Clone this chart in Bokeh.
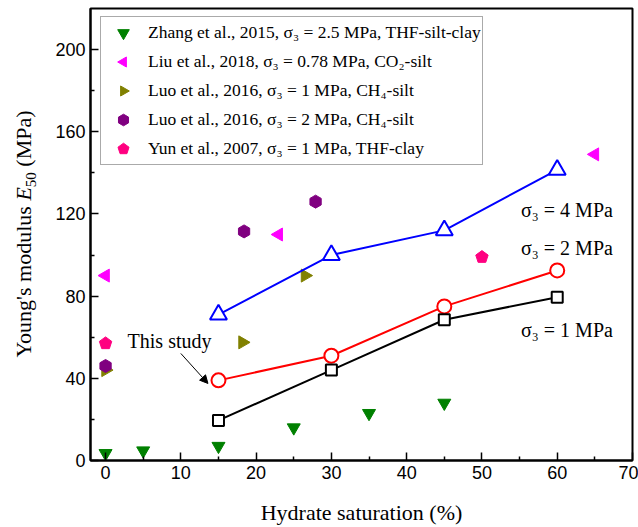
import numpy as np
from bokeh.plotting import figure
from bokeh.layouts import row
from bokeh.models import (Range1d, Legend, LegendItem, Label, Arrow, NormalHead, FixedTicker, Div)
from bokeh.core.properties import value
from bokeh.embed import file_html
from bokeh.resources import INLINE

# ---------------- data ----------------
zhang_x = [0, 5, 15, 25, 35, 45]
zhang_y = [3.5, 4.8, 7, 16, 23, 28]
liu_x = [0, 23, 65]
liu_y = [90, 110, 149]
luo1_x = [0, 18.2, 26.5]
luo1_y = [44, 57.5, 90]
luo2_x = [0, 18.4, 27.9]
luo2_y = [46, 111.5, 126]
yun_x = [0, 50]
yun_y = [57, 99]
study_x = [15, 30, 45, 60]
s1_y = [19.5, 44, 68.5, 79.5]
s2_y = [39, 51, 75, 92.5]
s4_y = [71, 100, 112, 141.5]

x_ticks = [0, 10, 20, 30, 40, 50, 60, 70]
x_minor = [5, 15, 25, 35, 45, 55, 65]
y_ticks = [0, 40, 80, 120, 160, 200]
y_minor = [20, 60, 100, 140, 180]

legend_labels = [
    "Zhang et al., 2015, σ₃ = 2.5 MPa, THF-silt-clay",
    "Liu et al., 2018, σ₃ = 0.78 MPa, CO₂-silt",
    "Luo et al., 2016, σ₃ = 1 MPa, CH₄-silt",
    "Luo et al., 2016, σ₃ = 2 MPa, CH₄-silt",
    "Yun et al., 2007, σ₃ = 1 MPa, THF-clay",
]

SERIF = "Liberation Serif"
SANS = "Liberation Sans"
LABEL_W = 52

p = figure(width=638 - LABEL_W, height=527, output_backend="svg", toolbar_location=None,
           x_range=Range1d(-2, 70), y_range=Range1d(0, 220),
           min_border_left=36, min_border_right=6, min_border_top=8, min_border_bottom=67)
p.xgrid.visible = False
p.ygrid.visible = False
p.outline_line_color = "black"
p.outline_line_width = 2
p.background_fill_color = "white"
p.border_fill_color = "white"

# scatter data from literature
r_z = p.scatter(zhang_x, zhang_y, marker="inverted_triangle", size=13,
                fill_color="#008000", line_color="#008000")
r_liu = p.ngon(liu_x, liu_y, radius=7.5, radius_units="screen", n=3, angle=np.pi / 2,
               fill_color="#FF00FF", line_color="#FF00FF")
r_l1 = p.ngon(luo1_x, luo1_y, radius=7.5, radius_units="screen", n=3, angle=-np.pi / 2,
              fill_color="#808000", line_color="#808000")
r_l2 = p.ngon(luo2_x, luo2_y, radius=6.5, radius_units="screen", n=6,
              fill_color="#800080", line_color="#800080")
r_yun = p.ngon(yun_x, yun_y, radius=6.5, radius_units="screen", n=5,
               fill_color="#FF0080", line_color="#FF0080")

# this study
p.line(study_x, s4_y, line_color="blue", line_width=2)
p.scatter(study_x, s4_y, marker="triangle", size=17, line_color="blue",
          fill_color="white", line_width=2)
p.line(study_x, s2_y, line_color="red", line_width=2)
p.scatter(study_x, s2_y, marker="circle", size=14, line_color="red",
          fill_color="white", line_width=2)
p.line(study_x, s1_y, line_color="black", line_width=2)
p.scatter(study_x, s1_y, marker="square", size=11, line_color="black",
          fill_color="white", line_width=2)

# axes
p.xaxis.ticker = FixedTicker(ticks=x_ticks, minor_ticks=x_minor)
p.yaxis.ticker = FixedTicker(ticks=y_ticks, minor_ticks=y_minor)
for ax in (p.xaxis[0], p.yaxis[0]):
    ax.major_tick_in = 8
    ax.major_tick_out = 0
    ax.minor_tick_in = 4
    ax.minor_tick_out = 0
    ax.axis_line_width = 2
    ax.axis_line_color = "black"
    ax.major_tick_line_width = 1.5
    ax.minor_tick_line_width = 1.5
    ax.major_tick_line_color = "black"
    ax.minor_tick_line_color = "black"
    ax.major_label_text_font = SANS
    ax.major_label_text_font_size = "18px"
    ax.major_label_text_color = "black"
p.xaxis.major_label_standoff = 5
p.yaxis.major_label_standoff = 5
p.xaxis.axis_label = "Hydrate saturation (%)"
p.xaxis.axis_label_text_font = SERIF
p.xaxis.axis_label_text_font_style = "normal"
p.xaxis.axis_label_text_font_size = "22px"
p.xaxis.axis_label_text_color = "black"
p.xaxis.axis_label_standoff = 18

# annotations
for txt, yy in [("σ₃ = 4 MPa", 122), ("σ₃ = 2 MPa", 103.6), ("σ₃ = 1 MPa", 63.7)]:
    p.add_layout(Label(x=55.2, y=yy, text=txt, text_align="left", text_baseline="middle",
                       text_font=SERIF, text_font_size="20px", text_color="black"))
p.add_layout(Label(x=8.5, y=58, text="This study", text_align="center", text_baseline="middle",
                   text_font=SERIF, text_font_size="20px", text_color="black"))
p.add_layout(Arrow(end=NormalHead(size=8, fill_color="black", line_color="black"),
                   x_start=10.0, y_start=52.1, x_end=13.6, y_end=37.5,
                   line_width=1, line_color="black"))

renderers = [r_z, r_liu, r_l1, r_l2, r_yun]
legend = Legend(items=[LegendItem(label=value(lab), renderers=[r]) for lab, r in zip(legend_labels, renderers)],
                location=(10, 295), border_line_color="#555555", border_line_width=1,
                background_fill_color="white", background_fill_alpha=1,
                label_text_font=SERIF, label_text_font_size="17.5px", label_text_color="black",
                glyph_width=42, glyph_height=29, label_height=29, spacing=0, padding=1,
                label_standoff=4, margin=0)
p.add_layout(legend)

# y-axis title: italic E with subscript 50, rotated, as real text
ylabel_html = (
    '<div style="position:relative;width:%dpx;height:527px;">'
    '<div style="position:absolute;left:26px;top:234px;'
    'transform:translate(-50%%,-50%%) rotate(-90deg);white-space:nowrap;'
    "font-family:'Liberation Serif';font-size:22px;color:#000;line-height:1;\">"
    "Young's modulus <i>E</i><sub style=\"font-size:15px;\">50</sub> (MPa)</div></div>"
) % LABEL_W
ydiv = Div(text=ylabel_html, width=LABEL_W, height=527, margin=(0, 0, 0, 0))

layout = row(ydiv, p, spacing=0)
open("out.html", "w").write(file_html(layout, INLINE))
